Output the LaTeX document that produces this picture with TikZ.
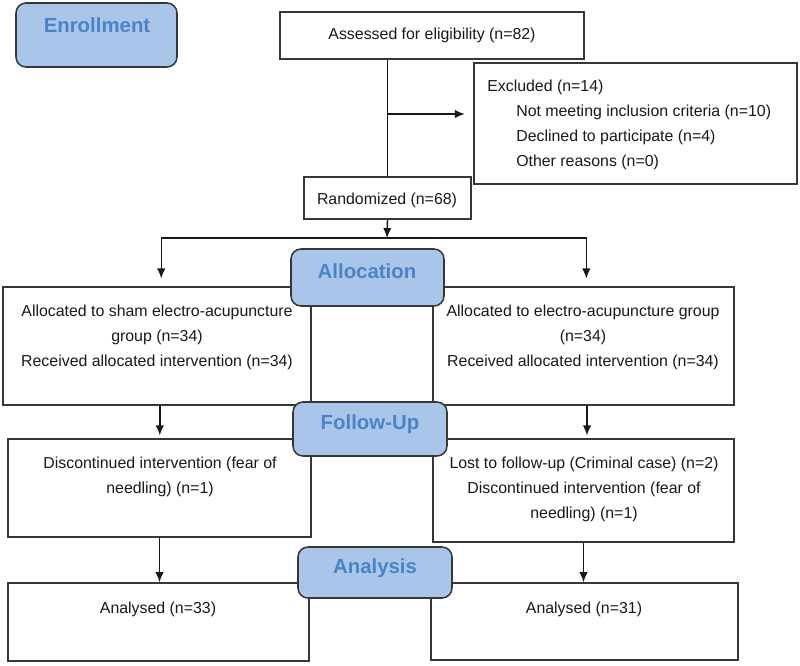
\documentclass[tikz,border=0pt]{standalone}
\usepackage{fontspec}
\setmainfont{Liberation Sans}
\usetikzlibrary{arrows.meta,fit}
\definecolor{hdrfill}{RGB}{169,197,233}
\definecolor{hdrtext}{RGB}{74,132,198}
\definecolor{edge}{RGB}{55,55,55}
\definecolor{ink}{RGB}{25,25,25}
\begin{document}
\begin{tikzpicture}[x=0.025cm, y=-0.025cm,
    box/.style={draw=edge, line width=1.1pt, fill=white, inner sep=0pt},
    hdr/.style={draw=edge, line width=1.1pt, fill=hdrfill, rounded corners=0.25cm, inner sep=0pt},
    hdrtxt/.style={text=hdrtext, inner sep=0pt, font=\fontsize{14.5}{17}\selectfont\bfseries},
    txt/.style={text=ink, align=center, inner sep=0pt, font=\fontsize{11.3}{17.8}\selectfont},
    arr/.style={-{Latex[length=2.5mm,width=2.1mm]}, draw=ink, line width=1pt},
    lin/.style={draw=ink, line width=1pt}]
    \useasboundingbox (0,0) rectangle (800,665);
    \fill[white] (0,0) rectangle (800,665);

    \node[box, fit={(280,12) (584,59)}]   (assess) {};
    \node[txt] (assesst) at (432,35) {Assessed for eligibility (n=82)};
    \node[box, fit={(474,63) (797,184)}]  (excl) {};
    \node[txt, align=left, anchor=north west] (exclt) at (487,80)
        {Excluded (n=14)\\
         \hspace*{0.725cm}Not meeting inclusion criteria (n=10)\\
         \hspace*{0.725cm}Declined to participate (n=4)\\
         \hspace*{0.725cm}Other reasons (n=0)};
    \node[box, fit={(304,177) (471,219)}] (rand) {};
    \node[txt] (randt) at (387,200) {Randomized (n=68)};

    \node[box, fit={(3,287) (311,405)}]   (alloL) {};
    \node[txt] (alloLt) at (157,337)
        {Allocated to sham electro-acupuncture\\group (n=34)\\Received allocated intervention (n=34)};
    \node[box, fit={(433,287) (734,405)}] (alloR) {};
    \node[txt] (alloRt) at (583,337)
        {Allocated to electro-acupuncture group\\(n=34)\\Received allocated intervention (n=34)};

    \node[box, fit={(8,439) (311,537)}]   (folL) {};
    \node[txt] (folLt) at (160,477) {Discontinued intervention (fear of\\needling) (n=1)};
    \node[box, fit={(433,439) (734,542)}] (folR) {};
    \node[txt] (folRt) at (584,489)
        {Lost to follow-up (Criminal case) (n=2)\\Discontinued intervention (fear of\\needling) (n=1)};

    \node[box, fit={(8,583) (309,661)}]   (anaL) {};
    \node[txt] (anaLt) at (158,609) {Analysed (n=33)};
    \node[box, fit={(431,583) (738,660)}] (anaR) {};
    \node[txt] (anaRt) at (584,609) {Analysed (n=31)};

    \coordinate (exclIn) at (387,114);
    \coordinate (split)  at (387,238);
    \draw[lin] (rand.north |- assess.south) -- (rand.north);
    \draw[arr, shorten >=6pt] (exclIn) -- (exclIn -| excl.west);
    \draw[arr] (rand.south) -- (split);
    \draw[arr, shorten >=5.5pt] (split) -| ([xshift=3pt]alloL.north);
    \draw[arr, shorten >=5.5pt] (split) -| ([xshift=2pt]alloR.north);
    \draw[arr, shorten >=2pt] ([xshift=2pt]alloL.south) -- ([xshift=2pt]alloL.south |- folL.north);
    \draw[arr, shorten >=2pt] ([xshift=2.5pt]alloR.south) -- ([xshift=2.5pt]alloR.south |- folR.north);
    \draw[arr] (folL.south) -- (folL.south |- anaL.north);
    \draw[arr] (folR.south) -- (folR.south |- anaR.north);

    \node[hdr, fit={(16,3) (177,67)}]     (enrol) {};
    \node[hdrtxt] (enrolt) at (97,25) {Enrollment};
    \node[hdr, fit={(291,249) (444,306)}] (alloc) {};
    \node[hdrtxt] (alloct) at (367,271) {Allocation};
    \node[hdr, fit={(293,402) (447,456)}] (follow) {};
    \node[hdrtxt] (followt) at (370,424) {Follow-Up};
    \node[hdr, fit={(298,547) (452,598)}] (anal) {};
    \node[hdrtxt] (analt) at (375,568) {Analysis};
\end{tikzpicture}
\end{document}
